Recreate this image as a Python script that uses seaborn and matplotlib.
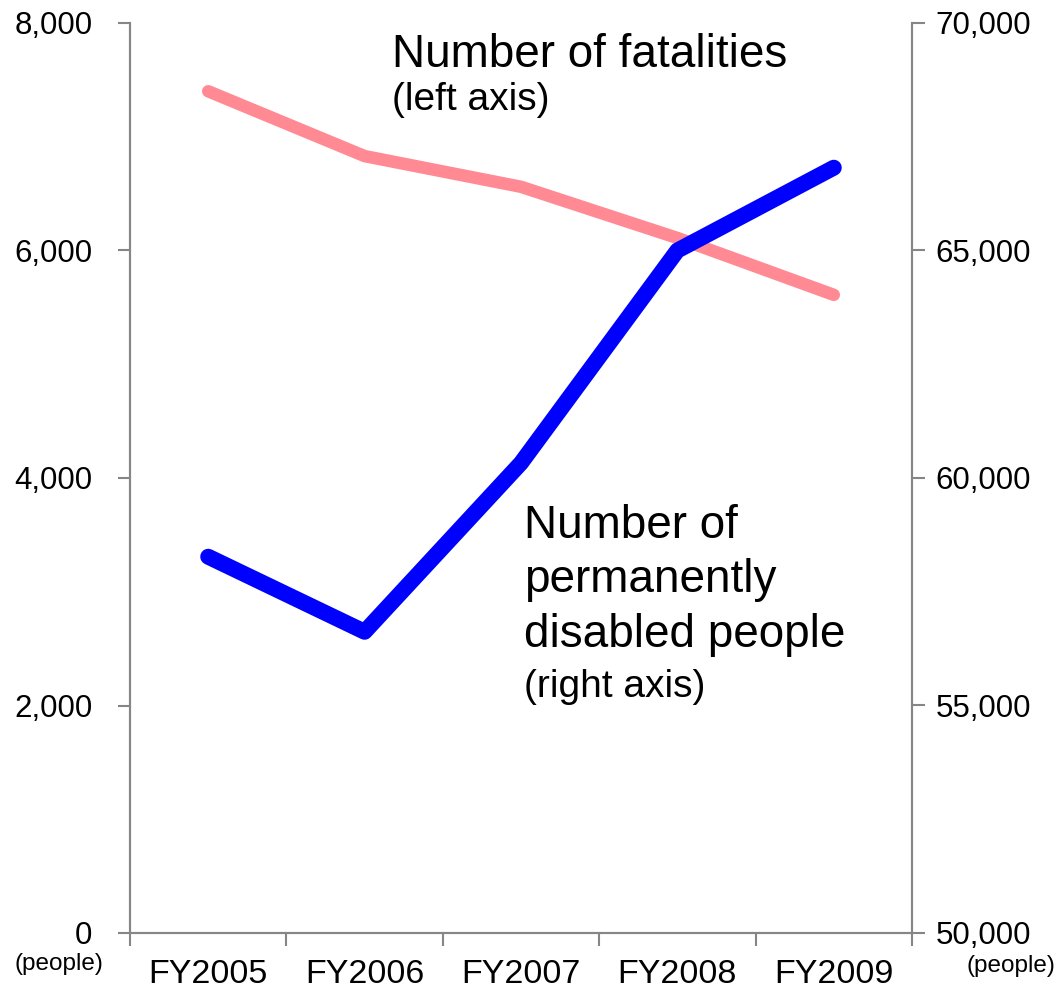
import numpy as np
import pandas as pd
import matplotlib
matplotlib.use("Agg")
import matplotlib.pyplot as plt
import seaborn as sns
from matplotlib.ticker import FuncFormatter, FixedLocator

years = ["FY2005", "FY2006", "FY2007", "FY2008", "FY2009"]
fatalities = [7400, 6830, 6560, 6110, 5610]
disabled = [58270, 56620, 60330, 65000, 66820]

sns.set_theme(style="white", rc={"text.color": "black", "xtick.color": "black",
                                 "ytick.color": "black", "axes.labelcolor": "black"})
plt.rcParams['font.family'] = ['Liberation Sans', 'DejaVu Sans']

W, H = 1059, 989
fig = plt.figure(figsize=(W / 100, H / 100), dpi=100)
ax = fig.add_axes([130 / W, 1 - 933 / H, (912 - 130) / W, (933 - 23) / H])
ax2 = ax.twinx()

df = pd.DataFrame({"year": years, "fatalities": fatalities, "disabled": disabled})

pink = "#FF8A94"
blue = "#0000FF"
gray = "#868686"

sns.lineplot(data=df, x="year", y="fatalities", ax=ax, color=pink, lw=9,
             sort=False, solid_capstyle="round", zorder=2)
sns.lineplot(data=df, x="year", y="disabled", ax=ax2, color=blue, lw=11.5,
             sort=False, solid_capstyle="round", zorder=3)

ax.set_xlim(-0.5, len(years) - 0.5)
ax.set_ylim(0, 8000)
ax2.set_ylim(50000, 70000)
ax.set_yticks([0, 2000, 4000, 6000, 8000])
ax2.set_yticks([50000, 55000, 60000, 65000, 70000])
fmt = FuncFormatter(lambda v, p: f"{int(v):,}")
ax.yaxis.set_major_formatter(fmt)
ax2.yaxis.set_major_formatter(fmt)

# category boundaries as ticks, labels centered on categories
ax.xaxis.set_major_locator(FixedLocator(np.arange(-0.5, len(years), 1.0)))
ax.xaxis.set_minor_locator(FixedLocator(np.arange(len(years))))
ax.set_xticklabels([])
ax.set_xticklabels(years, minor=True)
ax.tick_params(axis="x", which="major", length=9, width=1.5, color=gray, direction="out", bottom=True)
ax.tick_params(axis="x", which="minor", length=0, labelsize=24.5, pad=19, labelcolor="black", bottom=True)
ax.tick_params(axis="y", length=9, width=1.5, color=gray, direction="out", labelsize=22.5,
               pad=18, labelcolor="black", left=True)
ax2.tick_params(axis="y", length=9, width=1.5, color=gray, direction="out", labelsize=22.5,
                pad=8, labelcolor="black", right=True)
for a in (ax, ax2):
    a.set_xlabel("")
    a.set_ylabel("")
    for s in ["left", "right", "bottom"]:
        a.spines[s].set_color(gray)
        a.spines[s].set_linewidth(1.5)
    a.spines["top"].set_visible(False)
    a.grid(False)
ax.set_facecolor("none")

def px(x, y):
    return x / W, 1 - y / H

fig.text(*px(59, 964), "(people)", fontsize=17.5, ha="center", va="center", color="black")
fig.text(*px(1011, 966), "(people)", fontsize=17.5, ha="center", va="center", color="black")

fig.text(*px(392, 67), "Number of fatalities", fontsize=33, va="baseline", color="black")
fig.text(*px(392, 110), "(left axis)", fontsize=28, va="baseline", color="black")

fig.text(*px(524, 538), "Number of", fontsize=33, va="baseline", color="black")
fig.text(*px(524, 592), "permanently", fontsize=33, va="baseline", color="black")
fig.text(*px(524, 647), "disabled people", fontsize=33, va="baseline", color="black")
fig.text(*px(524, 697), "(right axis)", fontsize=28, va="baseline", color="black")

fig.savefig("out.png", dpi=100, facecolor="white")
